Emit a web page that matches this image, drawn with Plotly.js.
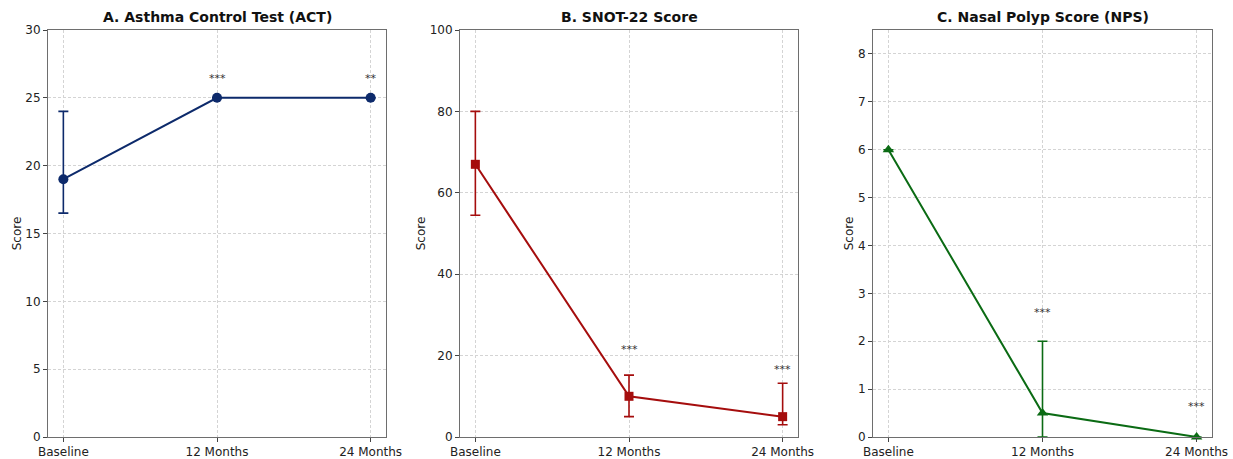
<!DOCTYPE html>
<html><head><meta charset="utf-8">
<script src="https://cdn.plot.ly/plotly-3.0.1.min.js"></script>
<style>html,body{margin:0;padding:0;background:#fff}#chart{width:1233px;height:459px}</style>
</head><body><div id="chart"></div>
<script>
const timepoints = ['Baseline', '12 Months', '24 Months'];

const actMean = [19, 25, 25];
const actErrUp = [5, 0, 0];
const actErrDown = [2.5, 0, 0];
const actStars = ['', '***', '**'];
const actStarY = [null, 26.4, 26.4];

const snotMean = [67, 10, 5];
const snotErrUp = [13, 5.2, 8.2];
const snotErrDown = [12.5, 5, 2];
const snotStars = ['', '***', '***'];
const snotStarY = [null, 21.4, 16.5];

const npsMean = [6, 0.5, 0];
const npsErrUp = [0, 1.5, 0];
const npsErrDown = [0, 0.5, 0];
const npsStars = ['', '***', '***'];
const npsStarY = [null, 2.6, 0.64];

const panels = [
  {title:'A. Asthma Control Test (ACT)', mean:actMean, up:actErrUp, down:actErrDown, stars:actStars, starY:actStarY, color:'#0d2a6b', symbol:'circle', size:10, range:[0,30], dtick:5},
  {title:'B. SNOT-22 Score', mean:snotMean, up:snotErrUp, down:snotErrDown, stars:snotStars, starY:snotStarY, color:'#a50d0d', symbol:'square', size:9, range:[0,100], dtick:20},
  {title:'C. Nasal Polyp Score (NPS)', mean:npsMean, up:npsErrUp, down:npsErrDown, stars:npsStars, starY:npsStarY, color:'#0b6b14', symbol:'triangle-up', size:10, range:[0,8.5], dtick:1}
];
const domains = [[48/1233, 386/1233],[460/1233, 798/1233],[873/1233, 1212/1233]];

const data = [];
const layout = {
  width:1233, height:459,
  margin:{l:0, r:0, t:30, b:22},
  paper_bgcolor:'#fff', plot_bgcolor:'#fff',
  showlegend:false,
  font:{family:'DejaVu Sans', color:'#222'},
  annotations:[]
};

panels.forEach((p, i) => {
  const n = i === 0 ? '' : String(i + 1);
  data.push({
    type:'scatter', mode:'lines+markers',
    x: timepoints, y: p.mean,
    xaxis:'x' + n, yaxis:'y' + n,
    line:{color:p.color, width:2},
    marker:{color:p.color, size:p.size, symbol:p.symbol},
    error_y:{type:'data', symmetric:false, array:p.up, arrayminus:p.down, color:p.color, thickness:1.6, width:5},
    cliponaxis:false
  });
  layout['xaxis' + n] = {
    domain: domains[i], anchor:'y' + n,
    type:'category', range:[-0.1, 2.1],
    showgrid:true, gridcolor:'#d4d4d4', griddash:'3px,2px', gridwidth:1,
    showline:true, mirror:true, linecolor:'#6e6e6e', linewidth:1,
    ticks:'outside', ticklen:4, tickcolor:'#444',
    tickfont:{size:12, color:'#222'}, zeroline:false, fixedrange:true
  };
  layout['yaxis' + n] = {
    domain:[0,1], anchor:'x' + n,
    range:p.range, dtick:p.dtick, tick0:0,
    showgrid:true, gridcolor:'#d4d4d4', griddash:'3px,2px', gridwidth:1,
    showline:true, mirror:true, linecolor:'#6e6e6e', linewidth:1,
    ticks:'outside', ticklen:4, tickcolor:'#444',
    tickfont:{size:12, color:'#222'}, zeroline:false,
    title:{text:'Score', font:{size:12, color:'#222'}, standoff:1}, fixedrange:true
  };
  layout.annotations.push({
    xref:'x' + n + ' domain', yref:'paper', x:0.5, y:1, yanchor:'bottom', yshift:3,
    text:'<b>' + p.title + '</b>', showarrow:false, font:{size:14, color:'#111'}
  });
  p.stars.forEach((s, j) => {
    if (!s) return;
    layout.annotations.push({
      xref:'x' + n, yref:'y' + n, x:timepoints[j], y:p.starY[j],
      text:s, showarrow:false, font:{size:11, color:'#333'}, yanchor:'middle'
    });
  });
});

Plotly.newPlot('chart', data, layout, {displayModeBar:false, staticPlot:true});
</script>
</body></html>
